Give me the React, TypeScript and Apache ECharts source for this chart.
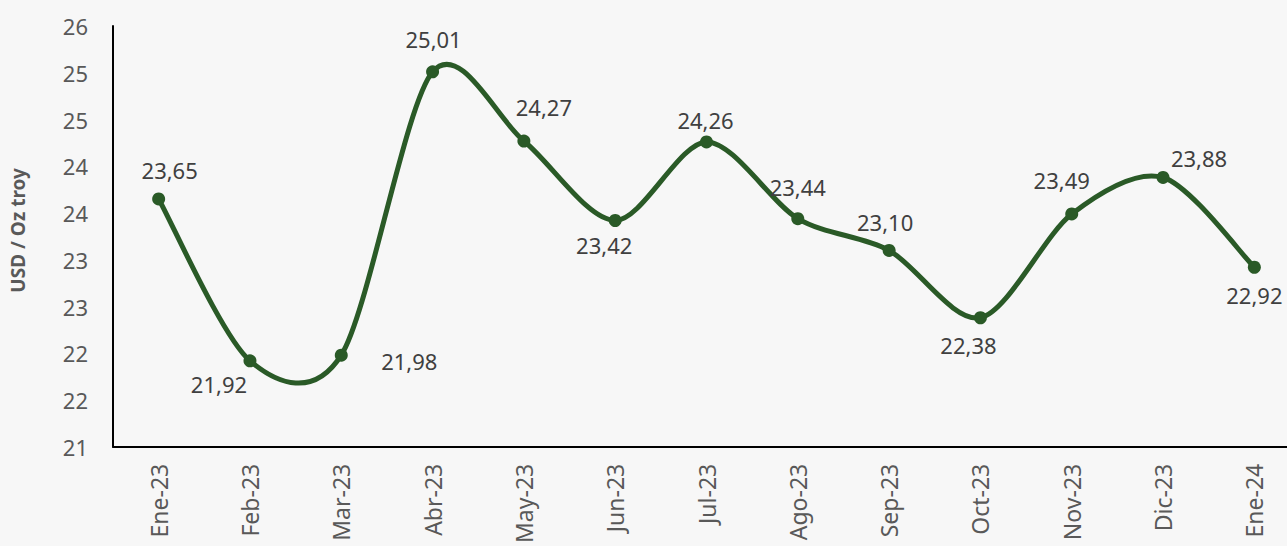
import React, { useEffect, useRef } from "react";
import * as echarts from "echarts";

const categories = ["Ene-23", "Feb-23", "Mar-23", "Abr-23", "May-23", "Jun-23", "Jul-23", "Ago-23", "Sep-23", "Oct-23", "Nov-23", "Dic-23", "Ene-24"];
const prices = [23.65, 21.92, 21.98, 25.01, 24.27, 23.42, 24.26, 23.44, 23.1, 22.38, 23.49, 23.88, 22.92];
const labelOffsets: [number, number][] = [
  [11, -29], [-31, 23], [68, 6], [1, -33], [20, -34], [-11, 25], [-1, -22],
  [0, -32], [-4, -28], [-12, 27], [-10, -34], [36, -19], [0, 28],
];
const yAxisTitle = "USD / Oz troy";

const TENSION = 0.15;
const COLOR = "#2a5a27";

export default function App() {
  const ref = useRef<HTMLDivElement>(null);
  useEffect(() => {
    if (!ref.current) return;
    const chart = echarts.init(ref.current, null, { renderer: "svg" });
    const font = "'Noto Sans', sans-serif";
    const n = prices.length;
    const segments = prices.slice(0, -1).map((v, i) => [
      i,
      prices[Math.max(i - 1, 0)],
      v,
      prices[i + 1],
      prices[Math.min(i + 2, n - 1)],
    ]);
    chart.setOption({
      animation: false,
      backgroundColor: "#f7f7f7",
      grid: { left: 113, right: 0, top: 26, bottom: 99, containLabel: false },
      xAxis: {
        type: "category",
        data: categories,
        boundaryGap: true,
        axisLine: { lineStyle: { color: "#000", width: 2 } },
        axisTick: { show: false },
        axisLabel: { rotate: 90, color: "#595959", fontSize: 23, fontFamily: font, margin: 17 },
      },
      yAxis: {
        type: "value",
        min: 21,
        max: 25.5,
        interval: 0.5,
        name: yAxisTitle,
        nameLocation: "middle",
        nameGap: 86,
        nameTextStyle: {
          color: "#595959",
          fontSize: 19,
          fontWeight: "bold",
          fontFamily: font,
          padding: [0, 0, 0, 12],
        },
        axisLine: { show: true, lineStyle: { color: "#000", width: 2 } },
        axisTick: { show: false },
        splitLine: { show: false },
        axisLabel: {
          color: "#595959",
          fontSize: 22,
          fontFamily: font,
          margin: 25,
          formatter: (v: number) => String(Math.round(v)),
        },
      },
      series: [
        {
          type: "custom",
          z: 2,
          silent: true,
          encode: { x: 0, y: 2 },
          data: segments,
          renderItem: (params: any, api: any) => {
            const i = api.value(0);
            const p0 = api.coord([Math.max(i - 1, 0), api.value(1)]);
            const p1 = api.coord([i, api.value(2)]);
            const p2 = api.coord([i + 1, api.value(3)]);
            const p3 = api.coord([Math.min(i + 2, n - 1), api.value(4)]);
            return {
              type: "bezierCurve",
              shape: {
                x1: p1[0],
                y1: p1[1],
                x2: p2[0],
                y2: p2[1],
                cpx1: p1[0] + (p2[0] - p0[0]) * TENSION,
                cpy1: p1[1] + (p2[1] - p0[1]) * TENSION,
                cpx2: p2[0] - (p3[0] - p1[0]) * TENSION,
                cpy2: p2[1] - (p3[1] - p1[1]) * TENSION,
              },
              style: { stroke: COLOR, lineWidth: 5, fill: "none", lineCap: "round" },
            };
          },
        },
        {
          type: "line",
          z: 3,
          data: prices.map((v, i) => ({
            value: v,
            label: { offset: labelOffsets[i] },
          })),
          symbol: "circle",
          symbolSize: 13,
          lineStyle: { color: COLOR, width: 0, opacity: 0 },
          itemStyle: { color: COLOR },
          label: {
            show: true,
            position: "inside",
            color: "#404040",
            fontSize: 22,
            fontFamily: font,
            formatter: (p: any) => p.value.toFixed(2).replace(".", ","),
          },
        },
      ],
    });
    return () => chart.dispose();
  }, []);
  return (
    <div style={{ position: "absolute", left: 0, top: 0, width: 1287, height: 546, overflow: "hidden" }}>
      <div ref={ref} style={{ width: 1300, height: 546 }} />
    </div>
  );
}
